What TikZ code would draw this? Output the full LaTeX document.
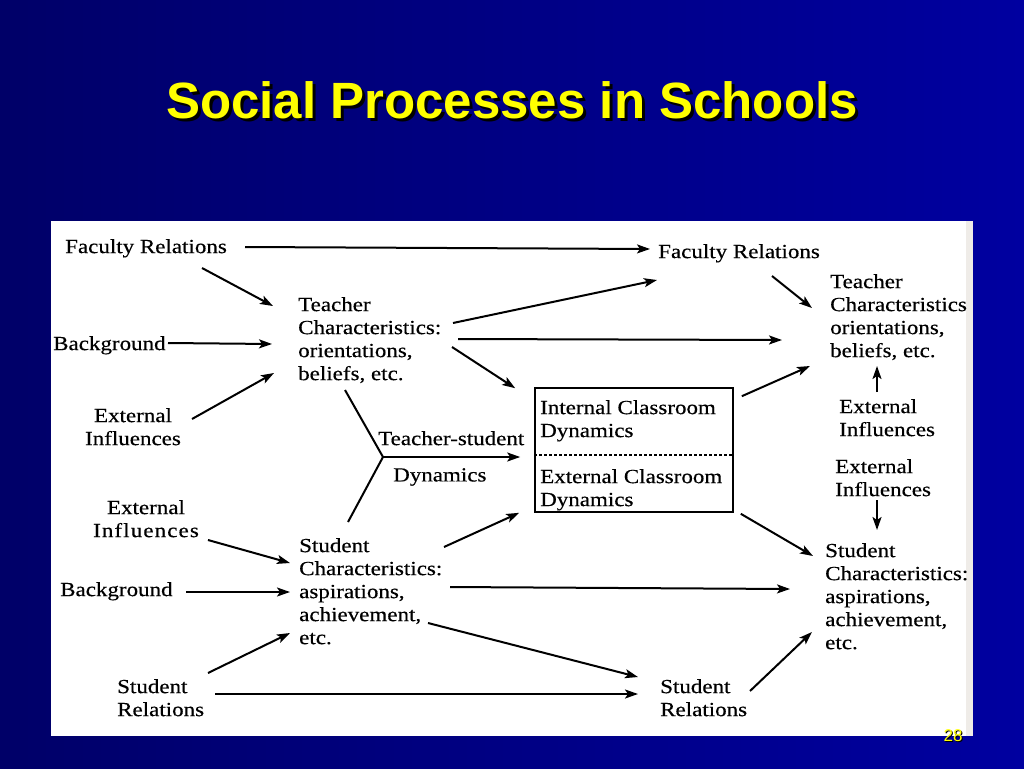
\documentclass[tikz,border=0pt]{standalone}
\usepackage{fontspec}
\setmainfont{Liberation Serif}
\newfontfamily\diafont{Liberation Serif}[FakeStretch=1.15,FakeBold=0.4]
\newfontfamily\diawide{Liberation Serif}[FakeStretch=1.15,FakeBold=0.4,LetterSpace=5.5]
\newfontfamily\slidefont{Liberation Sans}
\usepackage{xcolor}
\definecolor{slideNavy}{HTML}{000068}
\definecolor{slideBlue}{HTML}{0000A0}
\definecolor{slideYellow}{HTML}{FFFF00}
\definecolor{panelEdge}{HTML}{EFECE8}
\usetikzlibrary{arrows.meta,positioning,calc}
\tikzset{
    txt/.style={
        anchor=north west,
        inner sep=0pt,
        align=left,
        font={\fontsize{20}{23}\diafont}
    },
    ctxt/.style={
        txt,
        anchor=north,
        align=center
    },
    arrow/.style={
        -{Stealth[length=13pt,width=9pt,inset=3pt]},
        line width=2pt
    },
    link/.style={
        line width=2pt
    },
    classbox/.style={
        draw,
        line width=1.6pt,
        minimum width=198pt,
        minimum height=124pt,
        inner sep=0pt
    },
    sepline/.style={
        line width=1.2pt,
        dash pattern=on 3pt off 2pt
    }
}
\begin{document}
\begin{tikzpicture}[x=1pt,y=-1pt]
    \useasboundingbox (0,0) rectangle (1024,768);
    % Slide background and panel
    \shade[left color=slideNavy, right color=slideBlue] (0,0) rectangle (1024,768);
    \fill[white] (51,221) rectangle (973,736);
    \fill[panelEdge] (966,221) rectangle (973,736);

    % Title
    \node[anchor=base, font={\fontsize{51}{55}\slidefont\bfseries}, text=black] (titleshadow) at (515,121) {Social Processes in Schools};
    \node[anchor=base, font={\fontsize{51}{55}\slidefont\bfseries}, text=slideYellow] (title) at (512,118) {Social Processes in Schools};

    % Left column
    \node[txt] (facL) at (65,239) {Faculty Relations};
    \node[txt] (bgT) at (53,336) {Background};
    \node[ctxt] (extT) at (133,408) {External\\Influences};
    \node[ctxt] (extS) at (146,500) {External\\{\diawide Influences}};
    \node[txt] (bgS) at (60,582) {Background};
    \node[txt] (srelL) at (117,679) {Student\\Relations};

    % Middle column
    \node[txt] (tchar) at (298,297) {Teacher\\Characteristics:\\orientations,\\beliefs, etc.};
    \node[txt] (ts1) at (378,431) {Teacher-student};
    \node[txt] (ts2) at (393,468) {Dynamics};
    \coordinate (yj) at (383,457);
    \node[txt] (schar) at (299,538) {Student\\Characteristics:\\aspirations,\\achievement,\\etc.};

    % Classroom box
    \node[classbox] (box) at (634,450) {};
    \draw[sepline] ([yshift=-5pt]box.west) -- ([yshift=-5pt]box.east);
    \node[txt] (icd) at (540,400) {Internal Classroom\\Dynamics};
    \node[txt] (ecd) at (540,469) {External Classroom\\Dynamics};

    % Right column
    \node[txt] (facR) at (658,244) {Faculty Relations};
    \node[txt] (tcharR) at (830,274) {Teacher\\Characteristics\\orientations,\\beliefs, etc.};
    \node[txt] (extR1) at (839,399) {External\\Influences};
    \node[txt] (extR2) at (835,459) {External\\Influences};
    \node[txt] (scharR) at (825,543) {Student\\Characteristics:\\aspirations,\\achievement,\\etc.};
    \node[txt] (srelR) at (660,679) {Student\\Relations};

    % Arrows into teacher characteristics
    \draw[arrow] ([shift={(180,8)}]facL.north west) -- ([shift={(-8,5)}]facR.north west);
    \draw[arrow] ([shift={(137,29)}]facL.north west) -- ([shift={(-25,9)}]tchar.north west);
    \draw[arrow] ([shift={(115,7)}]bgT.north west) -- ([shift={(-26,47)}]tchar.north west);
    \draw[arrow] ([shift={(59,11)}]extT.north) -- ([shift={(-24,76)}]tchar.north west);

    % Arrows out of teacher characteristics
    \draw[arrow] ([shift={(155,26)}]tchar.north west) -- ([shift={(-1,36)}]facR.north west);
    \draw[arrow] ([shift={(160,42)}]tchar.north west) -- ([shift={(-48,66)}]tcharR.north west);
    \draw[arrow] ([shift={(154,50)}]tchar.north west) -- ([shift={(-19,1)}]box.north west);

    % Teacher-student dynamics
    \draw[link] ([shift={(47,93)}]tchar.north west) -- (yj);
    \draw[link] ([shift={(49,-16)}]schar.north west) -- (yj);
    \draw[arrow] (yj) -- ([shift={(-14,7)}]box.west);

    % Right side
    \draw[arrow] ([shift={(114,32)}]facR.north west) -- ([shift={(-18,34)}]tcharR.north west);
    \draw[arrow] ([shift={(8,9)}]box.north east) -- ([shift={(-20,92)}]tcharR.north west);
    \draw[arrow] ([shift={(38,-7)}]extR1.north west) -- ([shift={(47,92)}]tcharR.north west);
    \draw[arrow] ([shift={(42,41)}]extR2.north west) -- ([shift={(52,-13)}]scharR.north west);
    \draw[arrow] ([shift={(7,1)}]box.south east) -- ([shift={(-12,13)}]scharR.north west);

    % Arrows into student characteristics
    \draw[arrow] ([shift={(145,9)}]schar.north west) -- ([shift={(-15,0)}]box.south west);
    \draw[arrow] ([shift={(62,40)}]extS.north) -- ([shift={(-9,25)}]schar.north west);
    \draw[arrow] ([shift={(126,10)}]bgS.north west) -- ([shift={(-9,54)}]schar.north west);
    \draw[arrow] ([shift={(91,-6)}]srelL.north west) -- ([shift={(-9,95)}]schar.north west);

    % Arrows out of student characteristics
    \draw[arrow] ([shift={(151,49)}]schar.north west) -- ([shift={(-35,46)}]scharR.north west);
    \draw[arrow] ([shift={(129,85)}]schar.north west) -- ([shift={(-22,-2)}]srelR.north west);
    \draw[arrow] ([shift={(98,15)}]srelL.north west) -- ([shift={(-22,15)}]srelR.north west);
    \draw[arrow] ([shift={(90,12)}]srelR.north west) -- ([shift={(-13,89)}]scharR.north west);

    % Page number
    \node[anchor=base, font={\fontsize{17}{19}\slidefont}, text=black] (pageshadow) at (954,742) {28};
    \node[anchor=base, font={\fontsize{17}{19}\slidefont}, text=slideYellow] (page) at (953,741) {28};
\end{tikzpicture}
\end{document}
